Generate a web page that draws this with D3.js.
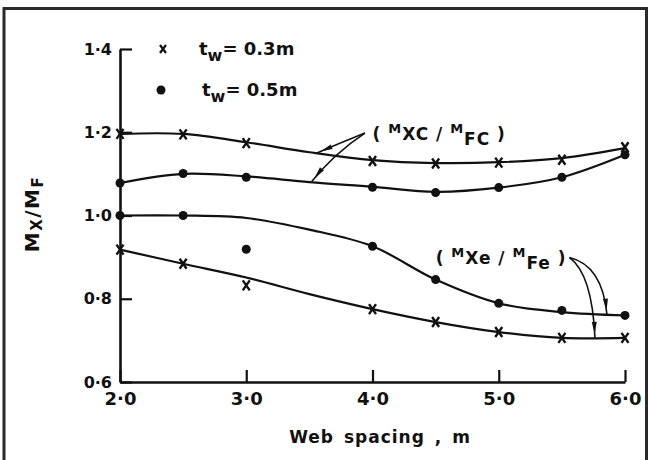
<!DOCTYPE html>
<html>
<head>
<meta charset="utf-8">
<script src="https://cdn.jsdelivr.net/npm/d3@7"></script>
<style>
  body { margin: 0; background: #fff; }
  text { font-family: "DejaVu Sans", sans-serif; font-weight: bold; fill: #111; }
</style>
</head>
<body>
<div id="chart"></div>
<script>
// measured points, web spacing (m)
var spacing = [2.0, 2.5, 3.0, 4.0, 4.5, 5.0, 5.5, 6.0]
var mxcThin = [1.196, 1.195, 1.174, 1.131, 1.125, 1.127, 1.134, 1.164]   // tw = 0.3 m, crosses
var mxcThick = [1.078, 1.101, 1.092, 1.068, 1.055, 1.067, 1.092, 1.146]  // tw = 0.5 m, dots
var mxeThin = [0.918, 0.884, 0.832, 0.775, 0.744, 0.720, 0.706, 0.706]
var mxeThick = [1.000, 1.000, 0.919, 0.926, 0.846, 0.789, 0.772, 0.760]

// hand fitted curves as drawn on the figure
var fitSpacing = [2.0, 2.5, 3.0, 3.5, 4.0, 4.5, 5.0, 5.5, 6.0]
var fitMxcThin = [1.196, 1.196, 1.176, 1.152, 1.133, 1.126, 1.128, 1.138, 1.162]
var fitMxcThick = [1.078, 1.100, 1.094, 1.080, 1.069, 1.057, 1.067, 1.092, 1.146]
var fitMxeThin = [0.918, 0.884, 0.851, 0.811, 0.775, 0.744, 0.720, 0.706, 0.706]
var fitMxeThick = [1.000, 1.000, 0.994, 0.966, 0.926, 0.846, 0.789, 0.768, 0.760]

var xTicks = [2, 3, 4, 5, 6]
var yTicks = [0.6, 0.8, 1.0, 1.2, 1.4]

var width = 649, height = 460

var svg = d3.select("#chart").append("svg")
    .attr("width", width)
    .attr("height", height)

// outer frame of the scanned figure
svg.append("rect")
    .attr("x", 4).attr("y", 8.5)
    .attr("width", 642.5).attr("height", 470)
    .style("fill", "none")
    .style("stroke", "#2a2a2a")
    .style("stroke-width", 3)

var x = d3.scaleLinear().domain([2, 6]).range([120, 625])
var y = d3.scaleLinear().domain([0.6, 1.4]).range([382, 49])

var fmt = function (d) { return d.toFixed(1).replace(".", "\u00b7") }

//------------------------------------------
// axes, ticks pointing inwards
//------------------------------------------
var gx = svg.append("g")
    .attr("transform", "translate(0," + y(0.6) + ")")
    .call(d3.axisBottom(x).tickValues(xTicks).tickSize(-12).tickSizeOuter(0).tickPadding(10).tickFormat(fmt))
var gy = svg.append("g")
    .attr("transform", "translate(" + x(2) + ",0)")
    .call(d3.axisLeft(y).tickValues(yTicks).tickSize(-12).tickSizeOuter(0).tickPadding(8).tickFormat(fmt))

;[gx, gy].forEach(function (g) {
    g.select(".domain").style("stroke", "#111").style("stroke-width", 2.6)
    g.selectAll(".tick line").style("stroke", "#111").style("stroke-width", 2.2)
    g.selectAll(".tick text").style("fill", "#111").style("font-family", "DejaVu Sans, sans-serif").style("font-weight", "bold")
})
gx.selectAll(".tick text").style("font-size", "18px")
gy.selectAll(".tick text").style("font-size", "16px")

// axis titles
svg.append("text")
    .attr("x", 380).attr("y", 443)
    .attr("text-anchor", "middle")
    .style("font-size", "17px")
    .style("letter-spacing", "1px")
    .style("word-spacing", "3px")
    .text("Web  spacing , m")

var yt = svg.append("text")
    .attr("transform", "translate(39,214) rotate(-90)")
    .attr("text-anchor", "middle")
    .style("font-size", "20px")
    .style("letter-spacing", "1.5px")
yt.append("tspan").text("M")
yt.append("tspan").attr("dy", 3).style("font-size", "15px").text("X")
yt.append("tspan").attr("dy", -3).text("/")
yt.append("tspan").text("M")
yt.append("tspan").attr("dy", 4).style("font-size", "15px").text("F")

//------------------------------------------
// curves and markers
//------------------------------------------
var line = d3.line()
    .x(function (d) { return x(d[0]) })
    .y(function (d) { return y(d[1]) })
    .curve(d3.curveCatmullRom.alpha(0.5))

var fits = [fitMxcThin, fitMxcThick, fitMxeThin, fitMxeThick]
svg.selectAll(".fit")
    .data(fits)
    .enter()
    .append("path")
    .attr("class", "fit")
    .attr("d", function (vals) {
        return line(fitSpacing.map(function (s, i) { return [s, vals[i]] }))
    })
    .style("fill", "none")
    .style("stroke", "#111")
    .style("stroke-width", 2.2)

var crossPath = "M-3.5,-5L3.5,5M-3.5,5L3.5,-5"

function crosses(vals) {
    svg.append("g").selectAll("path")
        .data(spacing.map(function (s, i) { return [s, vals[i]] }))
        .enter()
        .append("path")
        .attr("transform", function (d) { return "translate(" + x(d[0]) + "," + y(d[1]) + ")" })
        .attr("d", crossPath)
        .style("stroke", "#111")
        .style("stroke-width", 2.4)
}
function dots(vals) {
    svg.append("g").selectAll("circle")
        .data(spacing.map(function (s, i) { return [s, vals[i]] }))
        .enter()
        .append("circle")
        .attr("cx", function (d) { return x(d[0]) })
        .attr("cy", function (d) { return y(d[1]) })
        .attr("r", 4.5)
        .style("fill", "#111")
}
crosses(mxcThin)
crosses(mxeThin)
dots(mxcThick)
dots(mxeThick)

//------------------------------------------
// legend
//------------------------------------------
svg.append("path")
    .attr("transform", "translate(163,49)")
    .attr("d", "M-3,-4L3,4M-3,4L3,-4")
    .style("stroke", "#111").style("stroke-width", 2.2)
svg.append("circle").attr("cx", 161).attr("cy", 90).attr("r", 4.5).style("fill", "#111")

var legendLabels = ["0.3m", "0.5m"]
legendLabels.forEach(function (lab, i) {
    var t = svg.append("text")
        .attr("x", 199 + i * 3).attr("y", 55 + i * 41)
        .style("font-size", "18px")
    t.append("tspan").text("t")
    t.append("tspan").attr("dy", 6).style("font-size", "16px").text("w")
    t.append("tspan").attr("dy", -6).text("= " + lab)
})

//------------------------------------------
// curve labels with pointer arrows
//------------------------------------------
function ratioLabel(px, py, sub1, sub2) {
    var t = svg.append("text")
        .attr("x", x(px)).attr("y", y(py))
        .style("font-size", "17px")
        .style("letter-spacing", "1px")
    t.append("tspan").text("( ")
    t.append("tspan").attr("dy", -7).style("font-size", "13px").text("M")
    t.append("tspan").attr("dy", 7).text(sub1 + " / ")
    t.append("tspan").attr("dy", -7).style("font-size", "13px").text("M")
    t.append("tspan").attr("dy", 12).text(sub2)
    t.append("tspan").attr("dy", -5).text(" )")
}
ratioLabel(4.0, 1.181, "XC", "FC")
ratioLabel(4.5, 0.884, "Xe", "Fe")

// each arrow: start, control, end (data units)
var arrows = [
    [[3.94, 1.198], [3.75, 1.175], [3.56, 1.150]],
    [[3.94, 1.198], [3.70, 1.150], [3.52, 1.082]],
    [[5.56, 0.899], [5.82, 0.880], [5.857, 0.762]],
    [[5.56, 0.899], [5.74, 0.860], [5.762, 0.706]]
]
arrows.forEach(function (a) {
    var p0 = [x(a[0][0]), y(a[0][1])],
        p1 = [x(a[1][0]), y(a[1][1])],
        p2 = [x(a[2][0]), y(a[2][1])]
    svg.append("path")
        .attr("d", "M" + p0 + "Q" + p1 + " " + p2)
        .style("fill", "none")
        .style("stroke", "#111")
        .style("stroke-width", 1.6)
    // slim arrow head a little before the tip
    var dx = p2[0] - p1[0], dy = p2[1] - p1[1]
    var len = Math.sqrt(dx * dx + dy * dy)
    var ux = dx / len, uy = dy / len
    var tip = [p2[0] - ux * 4, p2[1] - uy * 4]
    var base = [tip[0] - ux * 12, tip[1] - uy * 12]
    svg.append("path")
        .attr("d", "M" + tip + "L" + [base[0] - uy * 2.5, base[1] + ux * 2.5] +
            "L" + [base[0] + uy * 2.5, base[1] - ux * 2.5] + "Z")
        .style("fill", "#111")
})
</script>
</body>
</html>
